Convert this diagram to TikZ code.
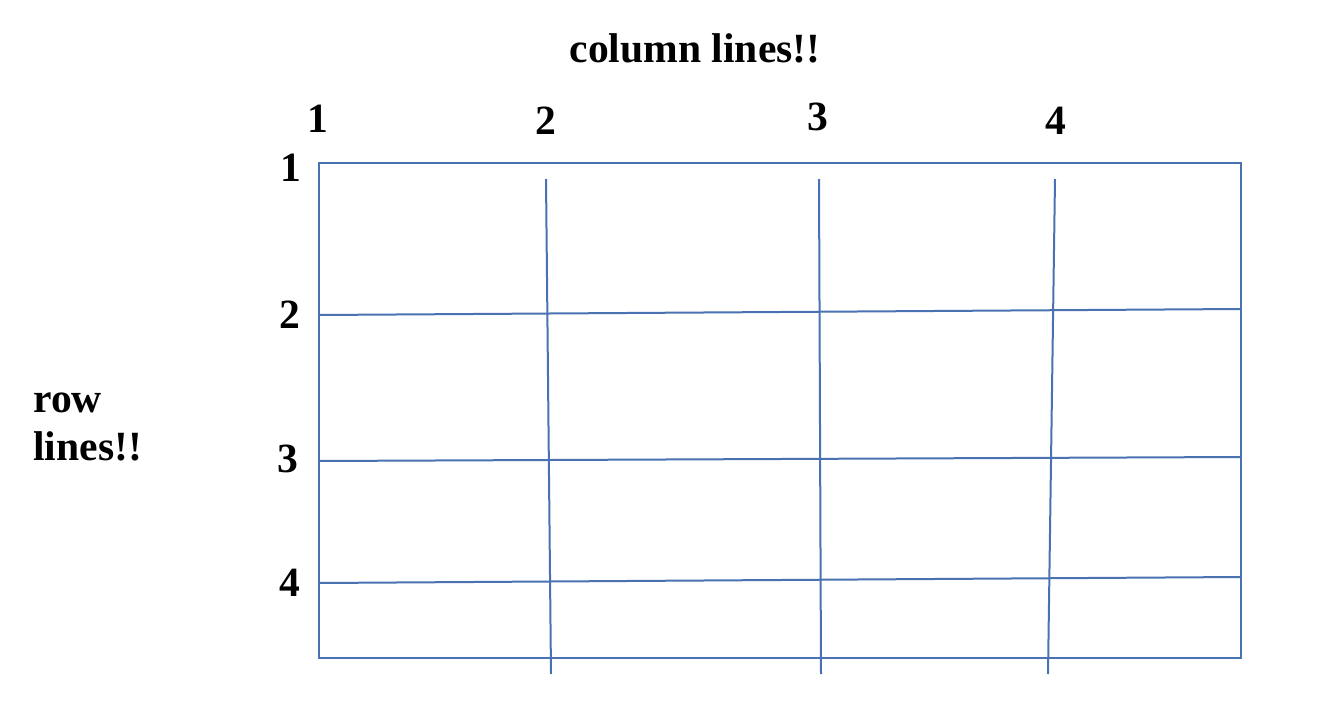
\documentclass[tikz,border=0pt]{standalone}
\usepackage{fontspec}
\setmainfont{Liberation Serif}
\definecolor{gridblue}{RGB}{74,114,178}
\begin{document}
\begin{tikzpicture}[x=0.5pt,y=-0.5pt,
  gridline/.style={draw=gridblue,line width=1pt},
  lbl/.style={font=\fontsize{20.8}{25}\selectfont\bfseries,inner sep=0pt,anchor=base}]
\useasboundingbox (0,0) rectangle (1334,712);
% frame
\draw[gridline] (319,163) rectangle (1241,658);
% column lines
\coordinate (c2t) at (546,179); \coordinate (c2b) at (551,674);
\coordinate (c3t) at (819,179); \coordinate (c3b) at (821,674);
\coordinate (c4t) at (1055,179); \coordinate (c4b) at (1048,674);
\draw[gridline] (c2t) -- (c2b);
\draw[gridline] (c3t) -- (c3b);
\draw[gridline] (c4t) -- (c4b);
% row lines
\coordinate (r2l) at (319,315); \coordinate (r2r) at (1241,309);
\coordinate (r3l) at (319,461); \coordinate (r3r) at (1241,457);
\coordinate (r4l) at (319,583); \coordinate (r4r) at (1241,577);
\draw[gridline] (r2l) -- (r2r);
\draw[gridline] (r3l) -- (r3r);
\draw[gridline] (r4l) -- (r4r);
% labels
\node[lbl] (title) at (695,62) {column lines!!};
\node[lbl] (ctop1) at (318,132) {1};
\node[lbl] (ctop2) at (546,134) {2};
\node[lbl] (ctop3) at (818,130) {3};
\node[lbl] (ctop4) at (1056,134) {4};
\node[lbl] (rl1) at (291,181) {1};
\node[lbl] (rl2) at (290,328) {2};
\node[lbl] (rl3) at (288,472) {3};
\node[lbl] (rl4) at (290,596) {4};
\node[lbl,anchor=base west] (row) at (33,412) {row};
\node[lbl,anchor=base west] (lines) at (33,460) {lines!!};
\end{tikzpicture}
\end{document}
